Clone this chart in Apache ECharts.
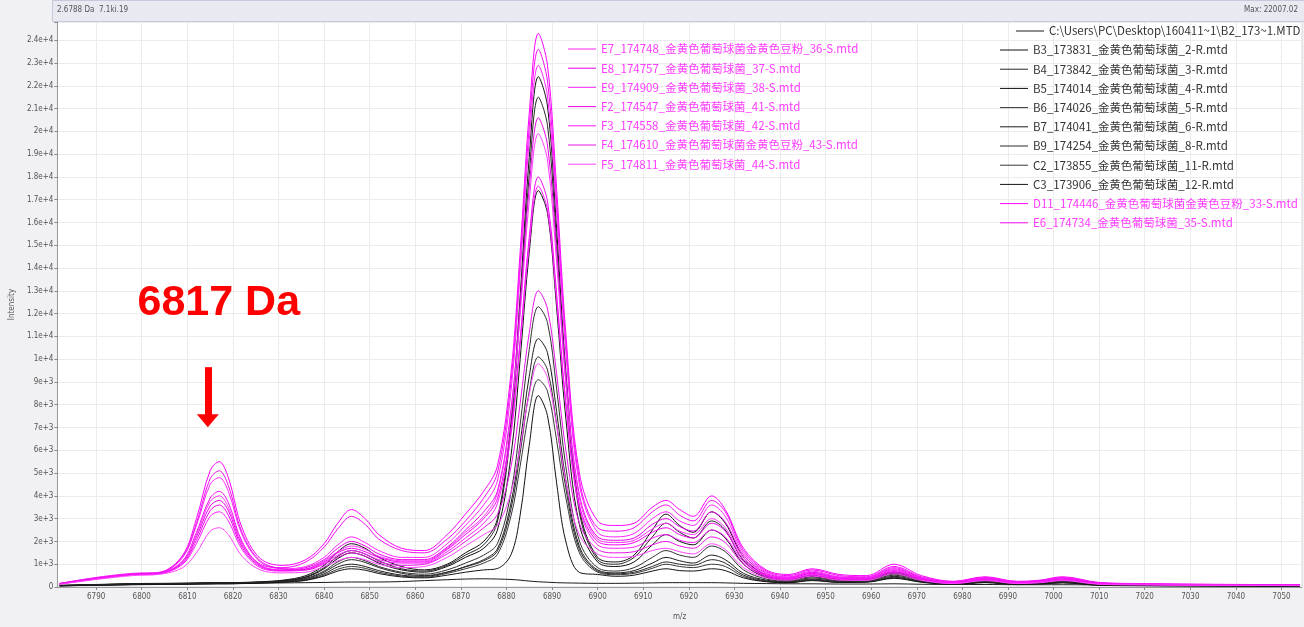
<!DOCTYPE html>
<html>
<head>
<meta charset="utf-8">
<script src="https://cdn.jsdelivr.net/npm/echarts@6/dist/echarts.min.js"></script>
<style>
  html, body { margin: 0; padding: 0; background: #f1f1f3; }
  #chart { width: 1304px; height: 627px; }
</style>
</head>
<body>
<div id="chart"></div>
<script>
// m/z sampling positions (Da)
const mz = [6782, 6790, 6798, 6804, 6809, 6812, 6815, 6817, 6819, 6822, 6826, 6831, 6836, 6840, 6843, 6846, 6849, 6852, 6857, 6862,
  6867, 6871, 6875, 6878, 6881, 6883, 6885, 6887, 6889, 6891, 6893, 6896, 6900, 6904, 6908, 6912, 6915, 6918, 6921, 6925,
  6928, 6932, 6937, 6942, 6947, 6953, 6959, 6965, 6971, 6978, 6985, 6992, 6997, 7002, 7010, 7020, 7035, 7054];

// x axis tick labels
const mzTicks = [6790, 6800, 6810, 6820, 6830, 6840, 6850, 6860, 6870, 6880, 6890, 6900, 6910, 6920, 6930, 6940, 6950, 6960,
  6970, 6980, 6990, 7000, 7010, 7020, 7030, 7040, 7050];

// spectra, intensity at each m/z position
const B2 = [60, 90, 120, 130, 140, 150, 150, 160, 160, 160, 170, 180, 190, 200, 210, 220, 220, 220, 240, 280, 320, 350, 360, 350, 330, 300, 260, 230, 210, 190, 180, 170, 160, 160, 170, 180, 190, 190, 190, 190, 180, 160, 150, 140, 140, 130, 130, 140, 120, 110, 110, 100, 100, 100, 90, 80, 70, 60];
const B3 = [70, 110, 150, 160, 170, 180, 190, 190, 190, 200, 230, 300, 500, 950, 1550, 1900, 1700, 1300, 900, 750, 1000, 1500, 2000, 2980, 7280, 12750, 18860, 22400, 21110, 15760, 9550, 3450, 1300, 1100, 1400, 2500, 3200, 2700, 2400, 3300, 2800, 1300, 500, 350, 500, 350, 350, 650, 350, 180, 300, 170, 200, 280, 120, 90, 70, 60];
const B4 = [70, 100, 140, 150, 160, 170, 180, 180, 180, 190, 220, 280, 450, 850, 1350, 1600, 1450, 1150, 800, 700, 950, 1400, 1850, 2840, 6960, 12220, 18090, 21500, 20260, 15110, 9130, 3260, 1200, 1000, 1300, 2200, 2800, 2400, 2150, 2900, 2500, 1150, 450, 320, 470, 320, 330, 600, 320, 170, 280, 160, 190, 260, 110, 85, 65, 55];
const B5 = [65, 100, 130, 140, 150, 160, 170, 170, 170, 180, 210, 270, 420, 800, 1250, 1500, 1350, 1050, 750, 650, 900, 1300, 1700, 2490, 5770, 9980, 14690, 17400, 16410, 12270, 7460, 2740, 1100, 900, 1100, 1850, 2300, 2000, 1850, 2500, 2150, 1000, 420, 300, 450, 300, 310, 570, 300, 160, 270, 150, 180, 250, 100, 80, 60, 50];
const B6 = [60, 90, 120, 130, 140, 150, 160, 160, 160, 170, 200, 250, 380, 700, 1100, 1300, 1150, 900, 650, 560, 750, 1050, 1400, 1900, 4140, 7110, 10430, 12300, 11610, 8700, 5330, 2020, 850, 700, 850, 1300, 1600, 1400, 1300, 1800, 1550, 750, 350, 260, 400, 270, 280, 520, 280, 150, 250, 140, 170, 230, 100, 75, 60, 50];
const B7 = [55, 85, 110, 120, 130, 140, 150, 150, 150, 160, 190, 230, 330, 580, 880, 1000, 900, 720, 520, 470, 650, 900, 1200, 1670, 3680, 6310, 9250, 10900, 10280, 7700, 4720, 1780, 750, 620, 720, 1050, 1300, 1150, 1050, 1400, 1200, 600, 300, 230, 350, 240, 250, 470, 250, 140, 230, 130, 160, 210, 90, 70, 55, 45];
const B9 = [55, 80, 110, 120, 130, 140, 150, 150, 150, 160, 190, 240, 360, 650, 1000, 1200, 1080, 850, 600, 500, 650, 880, 1150, 1570, 3430, 5860, 8580, 10100, 9530, 7140, 4370, 1650, 700, 580, 650, 900, 1100, 1000, 950, 1200, 1050, 520, 270, 210, 320, 220, 230, 430, 230, 130, 210, 120, 150, 200, 85, 65, 50, 40];
const C2 = [50, 80, 105, 115, 125, 135, 140, 145, 145, 155, 180, 220, 310, 520, 780, 900, 820, 650, 480, 430, 600, 800, 1050, 1420, 3120, 5300, 7740, 9100, 8590, 6440, 3950, 1500, 650, 540, 600, 820, 1000, 900, 850, 1000, 900, 460, 250, 200, 300, 210, 220, 400, 220, 120, 200, 110, 140, 190, 80, 60, 50, 40];
const C3 = [50, 75, 100, 110, 120, 130, 135, 140, 140, 150, 170, 210, 290, 480, 700, 800, 740, 590, 440, 400, 520, 650, 750, 810, 1420, 3150, 6220, 8400, 7520, 4570, 2020, 640, 550, 470, 520, 700, 800, 720, 700, 800, 720, 400, 230, 190, 280, 200, 210, 380, 210, 115, 190, 105, 130, 180, 75, 55, 45, 35];
const D11 = [150, 400, 580, 650, 1400, 3000, 5100, 5500, 4800, 2600, 1250, 950, 1200, 1900, 2800, 3400, 3000, 2300, 1700, 1600, 2300, 3200, 4200, 5300, 9400, 14700, 20800, 24300, 22900, 17500, 11200, 5000, 2900, 2700, 2800, 3500, 3800, 3400, 3100, 4000, 3400, 1700, 750, 550, 800, 550, 500, 1000, 500, 250, 450, 250, 300, 450, 200, 150, 120, 100];
const E6 = [130, 350, 540, 600, 1150, 2400, 3900, 4200, 3700, 2000, 1000, 850, 1100, 1750, 2550, 3100, 2750, 2100, 1600, 1500, 2100, 2900, 3900, 5000, 9000, 14200, 20200, 23600, 22200, 16900, 10800, 4700, 2600, 2450, 2600, 3300, 3600, 3150, 2900, 3800, 3300, 1600, 700, 500, 750, 500, 450, 900, 450, 230, 420, 230, 280, 420, 180, 140, 110, 90];
const E7 = [160, 420, 600, 640, 1300, 2700, 4500, 4800, 4200, 2300, 1100, 800, 900, 1300, 1850, 2200, 1950, 1600, 1300, 1300, 1900, 2700, 3600, 4650, 8600, 13800, 19600, 22900, 21550, 16400, 10400, 4500, 2400, 2200, 2350, 3000, 3300, 2900, 2700, 3600, 3100, 1500, 650, 450, 700, 450, 420, 850, 420, 220, 400, 220, 260, 400, 170, 130, 100, 90];
const E8 = [140, 380, 560, 600, 1100, 2200, 3550, 3800, 3350, 1850, 950, 750, 850, 1200, 1700, 2000, 1800, 1450, 1200, 1200, 1750, 2500, 3300, 4200, 7800, 12400, 17550, 20600, 19400, 14750, 9350, 4050, 2200, 2050, 2150, 2750, 3000, 2650, 2450, 3300, 2850, 1400, 600, 420, 650, 420, 400, 800, 400, 200, 380, 200, 250, 380, 160, 120, 100, 80];
const E9 = [150, 400, 570, 620, 1150, 2300, 3750, 4000, 3500, 1950, 950, 750, 800, 1150, 1550, 1800, 1650, 1350, 1150, 1150, 1700, 2400, 3100, 4100, 7550, 11950, 16950, 19900, 18750, 14250, 9000, 3900, 2100, 1950, 2050, 2550, 2800, 2450, 2300, 3000, 2600, 1300, 560, 400, 620, 400, 380, 760, 380, 190, 360, 190, 240, 360, 150, 120, 95, 80];
const F2 = [130, 360, 540, 590, 1050, 2050, 3350, 3600, 3150, 1750, 900, 720, 780, 1100, 1500, 1700, 1550, 1300, 1100, 1100, 1650, 2300, 3000, 3870, 6960, 10860, 15350, 18000, 16930, 12890, 8200, 3600, 2000, 1850, 1950, 2400, 2600, 2300, 2150, 2800, 2450, 1200, 530, 380, 600, 380, 360, 720, 360, 180, 340, 180, 230, 340, 150, 110, 90, 75];
const F3 = [140, 370, 550, 600, 1000, 1900, 3100, 3300, 2900, 1650, 850, 700, 750, 1050, 1400, 1600, 1450, 1200, 1050, 1050, 1550, 2150, 2800, 3650, 6680, 10600, 15000, 17600, 16550, 12580, 7990, 3470, 1850, 1700, 1750, 2150, 2300, 2050, 1950, 2500, 2200, 1100, 500, 360, 560, 360, 340, 680, 340, 170, 320, 170, 220, 320, 140, 110, 90, 70];
const F4 = [150, 390, 570, 620, 1350, 2800, 4750, 5100, 4450, 2400, 1150, 800, 750, 1000, 1300, 1500, 1350, 1100, 950, 1000, 1450, 2000, 2600, 3180, 5280, 8050, 11160, 13000, 12210, 9360, 6050, 2800, 1650, 1500, 1550, 1850, 2000, 1800, 1700, 2200, 1950, 1000, 450, 330, 520, 330, 320, 640, 320, 160, 300, 160, 200, 300, 130, 100, 80, 70];
const F5 = [120, 330, 500, 560, 850, 1500, 2450, 2600, 2300, 1350, 750, 620, 650, 900, 1150, 1300, 1200, 1000, 850, 900, 1300, 1800, 2300, 2700, 4160, 6140, 8470, 9800, 9190, 7100, 4670, 2280, 1450, 1300, 1350, 1600, 1700, 1550, 1450, 1900, 1650, 850, 400, 300, 480, 300, 290, 580, 290, 150, 280, 150, 190, 280, 120, 90, 75, 60];

// file names shown in the legends
const namesRight = [
  'C:\\Users\\PC\\Desktop\\160411~1\\B2_173~1.MTD',
  'B3_173831_金黄色葡萄球菌_2-R.mtd',
  'B4_173842_金黄色葡萄球菌_3-R.mtd',
  'B5_174014_金黄色葡萄球菌_4-R.mtd',
  'B6_174026_金黄色葡萄球菌_5-R.mtd',
  'B7_174041_金黄色葡萄球菌_6-R.mtd',
  'B9_174254_金黄色葡萄球菌_8-R.mtd',
  'C2_173855_金黄色葡萄球菌_11-R.mtd',
  'C3_173906_金黄色葡萄球菌_12-R.mtd',
  'D11_174446_金黄色葡萄球菌金黄色豆粉_33-S.mtd',
  'E6_174734_金黄色葡萄球菌_35-S.mtd'
];
const namesMiddle = [
  'E7_174748_金黄色葡萄球菌金黄色豆粉_36-S.mtd',
  'E8_174757_金黄色葡萄球菌_37-S.mtd',
  'E9_174909_金黄色葡萄球菌_38-S.mtd',
  'F2_174547_金黄色葡萄球菌_41-S.mtd',
  'F3_174558_金黄色葡萄球菌_42-S.mtd',
  'F4_174610_金黄色葡萄球菌金黄色豆粉_43-S.mtd',
  'F5_174811_金黄色葡萄球菌_44-S.mtd'
];

const MAGENTA_TEXT = '#ff3cff';
const DARK_TEXT = '#333333';

// [legend name, values, line colour, magenta group]
const spectra = [
  [namesRight[0], B2, '#1a1a1a', false],
  [namesRight[1], B3, '#111111', false],
  [namesRight[2], B4, '#262626', false],
  [namesRight[3], B5, '#0d0d0d', false],
  [namesRight[4], B6, '#303030', false],
  [namesRight[5], B7, '#1c1c1c', false],
  [namesRight[6], B9, '#2a2a2a', false],
  [namesRight[7], C2, '#383838', false],
  [namesRight[8], C3, '#141414', false],
  [namesRight[9], D11, '#ff00ff', true],
  [namesRight[10], E6, '#f20cf2', true],
  [namesMiddle[0], E7, '#ff22ff', true],
  [namesMiddle[1], E8, '#e600e6', true],
  [namesMiddle[2], E9, '#ff33ff', true],
  [namesMiddle[3], F2, '#f000f0', true],
  [namesMiddle[4], F3, '#ff1aff', true],
  [namesMiddle[5], F4, '#e814e8', true],
  [namesMiddle[6], F5, '#ff44ff', true]
];

const chart = echarts.init(document.getElementById('chart'), null, { renderer: 'canvas' });

const axisFont = '"DejaVu Sans Condensed", "DejaVu Sans", sans-serif';
const legendFont = '"Noto Sans CJK SC", "DejaVu Sans", sans-serif';

const series = spectra.map(([name, vals, color]) => ({
  name: name,
  type: 'line',
  data: mz.map((x, i) => [x, vals[i]]),
  smooth: 0.35,
  symbol: 'none',
  showSymbol: false,
  lineStyle: { width: 1, color: color },
  itemStyle: { color: color },
  emphasis: { disabled: true },
  animation: false
}));

// arrow and caption marking the 6817 Da peak
series[9].markLine = {
  silent: true,
  animation: false,
  symbol: ['none', 'triangle'],
  symbolSize: [22, 13],
  label: { show: false },
  lineStyle: { color: '#ff0000', width: 7, type: 'solid' },
  data: [[{ coord: [6814.5, 9650] }, { coord: [6814.5, 7300] }]]
};
series[9].markPoint = {
  silent: true,
  animation: false,
  symbol: 'circle',
  symbolSize: 1,
  itemStyle: { color: 'rgba(0,0,0,0)' },
  label: {
    show: true,
    position: 'inside',
    formatter: '6817 Da',
    color: '#ff0000',
    fontSize: 43,
    fontWeight: 'bold',
    fontFamily: '"Liberation Sans", Arial, sans-serif'
  },
  data: [{ coord: [6816.9, 12480] }]
};

function legendItems(names) {
  return names.map(n => {
    const s = spectra.find(e => e[0] === n);
    return { name: n, textStyle: { color: s[3] ? MAGENTA_TEXT : DARK_TEXT } };
  });
}

const legendBase = {
  orient: 'vertical',
  icon: 'rect',
  itemWidth: 28,
  itemHeight: 1,
  itemGap: 5.2,
  padding: 0,
  selectedMode: false,
  textStyle: { fontFamily: legendFont, fontSize: 11.5, lineHeight: 14, color: DARK_TEXT }
};

const option = {
  backgroundColor: '#f1f1f3',
  animation: false,
  grid: {
    left: 52, right: 2, top: 22, bottom: 40,
    show: true, backgroundColor: '#ffffff', borderColor: '#d8d8e0', borderWidth: 1
  },
  xAxis: {
    type: 'value',
    min: 6781.5,
    max: 7054.5,
    name: 'm/z',
    nameLocation: 'middle',
    nameGap: 26,
    nameTextStyle: { fontFamily: axisFont, fontSize: 8, color: '#555' },
    axisLine: { show: true, onZero: false, lineStyle: { color: '#9a9a9a', width: 1 } },
    axisTick: { show: true, length: 3, customValues: mzTicks, lineStyle: { color: '#888' } },
    axisLabel: {
      customValues: mzTicks, fontFamily: axisFont, fontSize: 8, color: '#555', margin: 6,
      formatter: v => String(v)
    },
    splitLine: { show: true, customValues: mzTicks, lineStyle: { color: '#ececec', width: 1 } }
  },
  yAxis: {
    type: 'value',
    min: 0,
    max: 24800,
    interval: 1000,
    name: 'Intensity',
    nameLocation: 'middle',
    nameGap: 27,
    nameTextStyle: { fontFamily: axisFont, fontSize: 8, color: '#555' },
    axisLine: { show: true, lineStyle: { color: '#9a9a9a', width: 1 } },
    axisTick: { show: true, length: 3, lineStyle: { color: '#888' } },
    axisLabel: {
      fontFamily: axisFont, fontSize: 8, color: '#555', margin: 4,
      formatter: v => (v % 1000 !== 0 ? '' : (v === 0 ? '0' : v.toExponential()))
    },
    splitLine: { show: true, lineStyle: { color: '#ececec', width: 1 } }
  },
  legend: [
    Object.assign({}, legendBase, { left: 1016, top: 24, data: legendItems(namesRight.slice(0, 1)) }),
    Object.assign({}, legendBase, { left: 1000, top: 43, data: legendItems(namesRight.slice(1)) }),
    Object.assign({}, legendBase, { left: 568, top: 42, data: legendItems(namesMiddle) })
  ],
  graphic: [
    {
      type: 'rect', left: 52, top: 0, silent: true, z: 10,
      shape: { width: 1252, height: 21 },
      style: { fill: '#e9e9f2', stroke: '#c8c8dc', lineWidth: 1 }
    },
    {
      type: 'text', left: 57, top: 6, silent: true, z: 11,
      style: { text: '2.6788 Da  7.1ki.19', fill: '#555', font: '8px "DejaVu Sans Condensed", sans-serif' }
    },
    {
      type: 'text', right: 6, top: 6, silent: true, z: 11,
      style: { text: 'Max: 22007.02', fill: '#555', font: '8px "DejaVu Sans Condensed", sans-serif' }
    }
  ],
  series: series
};

chart.setOption(option);
</script>
</body>
</html>
